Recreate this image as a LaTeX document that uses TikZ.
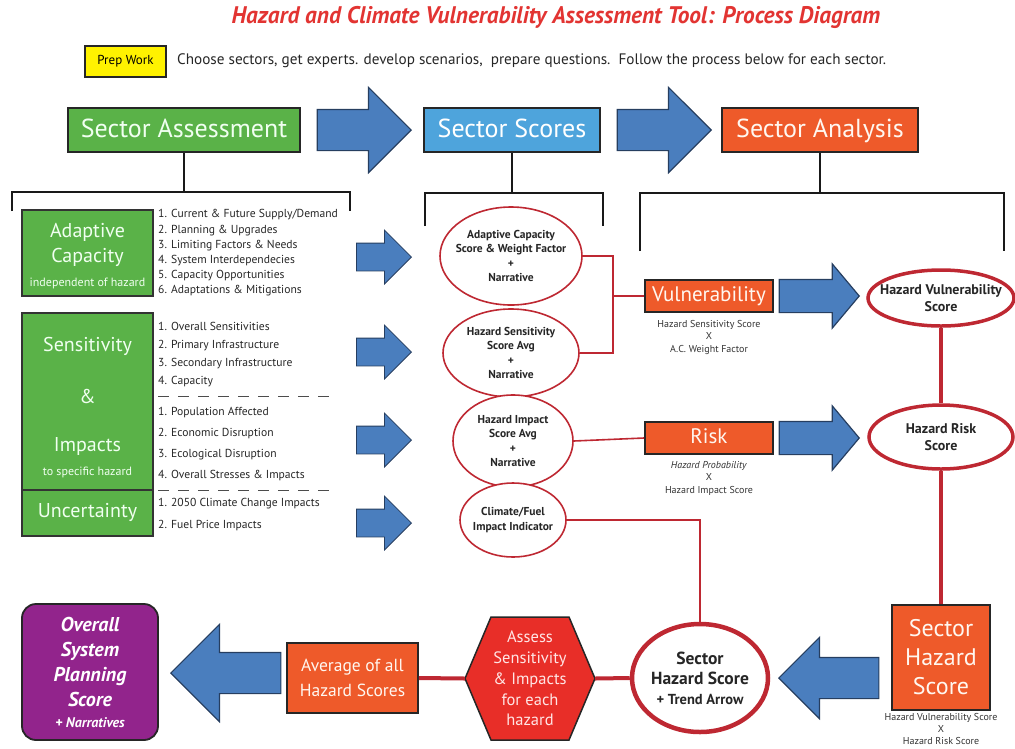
\documentclass[tikz,border=0pt]{standalone}
\usepackage{graphicx}
\usepackage{fontspec}
\setmainfont{PT Sans}
\usetikzlibrary{shapes.geometric,shapes.arrows,positioning,calc}

\definecolor{hdrgreen}{RGB}{90,178,72}
\definecolor{hdrblue}{RGB}{78,164,220}
\definecolor{boxorange}{RGB}{238,90,42}
\definecolor{arrowblue}{RGB}{74,126,190}
\definecolor{arrowline}{RGB}{38,62,96}
\definecolor{ellred}{RGB}{190,40,50}
\definecolor{hexred}{RGB}{232,46,40}
\definecolor{sysviolet}{RGB}{146,36,140}
\definecolor{prepyellow}{RGB}{255,242,0}
\definecolor{titlered}{RGB}{226,52,50}

\begin{document}
\begin{tikzpicture}[x=1pt, y=-1pt,
    hdr/.style={rectangle, draw=black!85, line width=2.5pt, inner sep=0,
        minimum height=44, text height=19, text depth=5, font=\fontsize{26}{30}\selectfont},
    sub/.style={rectangle, draw=black!80, line width=1.8pt, fill=hdrgreen,
        inner sep=0, minimum width=131},
    subtext/.style={inner sep=0, text=green!6!white, font=\fontsize{20}{24}\selectfont},
    list/.style={anchor=west, align=left, inner sep=0, text=black!85},
    bigarrow/.style={single arrow, draw=arrowline, line width=1.2pt, fill=arrowblue,
        inner xsep=0, inner ysep=20, single arrow head extend=22,
        minimum width=84, minimum height=94, anchor=tip},
    smallarrow/.style={bigarrow, inner ysep=13.5, single arrow head extend=13,
        minimum width=53, minimum height=55, line width=0.8pt},
    ell/.style={ellipse, draw=ellred, line width=1.6pt, fill=white, inner sep=0},
    elltext/.style={align=center, inner sep=0, text=black!85,
        font=\bfseries\fontsize{11.5}{14.5}\selectfont},
    opbox/.style={rectangle, draw=black!85, line width=1.8pt, fill=boxorange,
        inner sep=0, text=orange!6!white},
    note/.style={align=center, inner sep=0, text=black!80,
        font=\fontsize{10}{12.5}\selectfont},
    redline/.style={draw=ellred, line width=1.6pt},
    thickred/.style={draw=ellred, line width=4pt},
    bracket/.style={draw=black!90, line width=2pt},
]
\useasboundingbox (0,0) rectangle (1015,748);

% Title and prep work
\node[text=titlered, font=\bfseries\itshape\fontsize{24}{28}\selectfont] (title) at (556,17)
    {\scalebox{0.97}[1]{Hazard and Climate Vulnerability Assessment Tool: Process Diagram}};
\node[rectangle, draw=black!85, line width=1.5pt, fill=prepyellow, inner sep=0,
    minimum width=81, minimum height=31, font=\fontsize{13}{15}\selectfont] (prep) at (125.5,61.5) {Prep Work};
\node[anchor=west, inner sep=0, text=black!85, font=\fontsize{15.2}{18}\selectfont] (prep-text) at (177,61)
    {Choose sectors, get experts. develop scenarios,\ \ prepare questions.\ \ Follow the process below for each sector.};

% Headers
\node[hdr, fill=hdrgreen, minimum width=232, text=green!6!white] (assess) at (184,130) {Sector Assessment};
\node[hdr, fill=hdrblue, minimum width=176, text=white] (scores) at (512,130) {Sector Scores};
\node[hdr, fill=boxorange, minimum width=196, text=orange!6!white] (analysis) at (820,130) {Sector Analysis};
\node[bigarrow] (arr-1) at (412,130) {};
\node[bigarrow] (arr-2) at (712,130) {};

% Brackets
\draw[bracket] (assess.south) -- (184,192);
\draw[bracket] (12,211) -- (12,192) -- (350,192) -- (350,211);
\draw[bracket] (scores.south) -- (512,193);
\draw[bracket] (425,226) -- (425,193) -- (603,193) -- (603,226);
\draw[bracket] (analysis.south) -- (820,193);
\draw[bracket] (640,251) -- (640,193) -- (1004,193) -- (1004,251);

% Assessment boxes
\node[sub, minimum height=86] (adapt) at (87.5,253) {};
\node[subtext] (adapt-1) at (87.5,232) {Adaptive};
\node[subtext] (adapt-2) at (87.5,257) {Capacity};
\node[subtext, font=\fontsize{12}{14}\selectfont] (adapt-3) at (87.5,283) {independent of hazard};

\node[sub, minimum height=177] (sens) at (87.5,401.5) {};
\node[subtext] (sens-1) at (87.5,346) {Sensitivity};
\node[subtext] (sens-2) at (87.5,396) {\&};
\node[subtext] (sens-3) at (87.5,446) {Impacts};
\node[subtext, font=\fontsize{12}{14}\selectfont] (sens-4) at (87.5,472) {to specific hazard};

\node[sub, minimum height=46] (unc) at (87.5,513) {};
\node[subtext] (unc-1) at (87.5,512) {Uncertainty};

% Lists
\node[list, font=\fontsize{11.6}{15.2}\selectfont] (list-1) at (158,253)
    {1. Current \& Future Supply/Demand\\2. Planning \& Upgrades\\3. Limiting Factors \& Needs\\
     4. System Interdependecies\\5. Capacity Opportunities\\6. Adaptations \& Mitigations};
\node[list, font=\fontsize{11.6}{18}\selectfont] (list-2) at (158,355)
    {1. Overall Sensitivities\\2. Primary Infrastructure\\3. Secondary Infrastructure\\4. Capacity};
\draw[black!70, line width=0.9pt, dash pattern=on 11pt off 9pt] (158,396) -- (332,396);
\node[list, font=\fontsize{11.6}{20.8}\selectfont] (list-3) at (158,444)
    {1. Population Affected\\2. Economic Disruption\\3. Ecological Disruption\\4. Overall Stresses \& Impacts};
\draw[black!70, line width=0.9pt, dash pattern=on 11pt off 9pt] (158,490) -- (332,490);
\node[list, font=\fontsize{11.6}{22}\selectfont] (list-4) at (158,515)
    {1. 2050 Climate Change Impacts\\2. Fuel Price Impacts};

\node[smallarrow] (arr-a) at (412,257) {};
\node[smallarrow] (arr-b) at (412,352) {};
\node[smallarrow] (arr-c) at (412,440) {};
\node[smallarrow] (arr-d) at (412,523) {};

% Score ellipses
\node[ell, minimum width=142, minimum height=98] (adapt-score) at (511,256) {};
\node[elltext] at (adapt-score) {Adaptive Capacity\\Score \& Weight Factor\\+\\Narrative};
\node[ell, minimum width=136, minimum height=88] (sens-score) at (511,353) {};
\node[elltext] at (sens-score) {Hazard Sensitivity\\Score Avg\\+\\Narrative};
\node[ell, minimum width=120, minimum height=92] (impact-score) at (513,441) {};
\node[elltext] at (impact-score) {Hazard Impact\\Score Avg\\+\\Narrative};
\node[ell, minimum width=106, minimum height=74] (fuel-score) at (513,520) {};
\node[elltext] at (fuel-score) {Climate/Fuel\\Impact Indicator};

% Analysis
\node[opbox, minimum width=128, minimum height=32, text height=15, text depth=4,
    font=\fontsize{21}{24}\selectfont] (vuln) at (709,296) {Vulnerability};
\node[note] (vuln-note) at (709,337) {Hazard Sensitivity Score\\X\\A.C. Weight Factor};
\node[opbox, minimum width=128, minimum height=32, text height=15, text depth=4,
    font=\fontsize{21}{24}\selectfont] (risk) at (709,438) {Risk};
\node[note] (risk-note) at (709,478) {\textit{Hazard Probability}\\X\\Hazard Impact Score};

\draw[redline] (adapt-score.east) -- (613,256) coordinate (join) |- (sens-score.east);
\draw[redline] (join |- vuln.west) -- (vuln.west);
\draw[redline] (impact-score.east) -- (risk.west);

\node[bigarrow, inner ysep=16, single arrow head extend=15.5, minimum width=63, minimum height=80,
    single arrow tip angle=100] (arr-v) at (860,296) {};
\node[bigarrow, inner ysep=16, single arrow head extend=15.5, minimum width=63, minimum height=80,
    single arrow tip angle=100] (arr-r) at (860,438) {};

\node[ell, line width=3.5pt, minimum width=146, minimum height=56] (hvs) at (941,298) {};
\node[elltext, font=\bfseries\fontsize{14}{17}\selectfont] at (hvs) {Hazard Vulnerability\\Score};
\node[ell, line width=3.5pt, minimum width=144, minimum height=64] (hrs) at (941,437) {};
\node[elltext, font=\bfseries\fontsize{14}{17}\selectfont] at (hrs) {Hazard Risk\\Score};

\node[opbox, minimum width=98, minimum height=105, align=center, font=\fontsize{24}{29}\selectfont] (shs) at (941,657.5)
    {Sector\\Hazard\\Score};
\node[note, font=\fontsize{10}{12}\selectfont] (shs-note) at (941,729) {Hazard Vulnerability Score\\X\\Hazard Risk Score};

\draw[thickred] (hvs.south) -- (hrs.north);
\draw[thickred] (hrs.south) -- (shs.north);

% Bottom row
\node[bigarrow, shape border rotate=180, single arrow head extend=20, minimum width=80,
    minimum height=100] (arr-s) at (778,678) {};
\node[ell, line width=4.5pt, minimum width=136, minimum height=108] (sector) at (700,678) {};
\node[elltext, font=\bfseries\fontsize{17.5}{20}\selectfont] at (sector)
    {Sector\\Hazard Score\\{\fontsize{14.5}{16}\selectfont + Trend Arrow}};
\draw[redline] (fuel-score.east) -| (sector.north);

\draw[draw=black!85, line width=1.5pt, fill=hexred]
    (465,678.5) -- (491,617) -- (569,617) -- (595,678.5) -- (569,740) -- (491,740) -- cycle;
\node[inner sep=0, minimum width=130, minimum height=123, align=center, text=red!10!white,
    font=\fontsize{16.5}{20.8}\selectfont] (hex) at (530,678.5)
    {Assess\\Sensitivity\\\& Impacts\\for each\\hazard};
\draw[thickred] (hex.east) -- (sector.west);

\node[opbox, minimum width=131, minimum height=70, align=center, font=\fontsize{17.5}{25}\selectfont] (avg) at (352.5,678)
    {Average of all\\Hazard Scores};
\draw[thickred] (hex.west) -- (avg.east);

\node[bigarrow, shape border rotate=180, single arrow head extend=28, minimum width=96,
    minimum height=110] (arr-o) at (170,673) {};
\node[rectangle, rounded corners=14pt, draw=black!85, line width=1.8pt, fill=sysviolet, inner sep=0,
    minimum width=136, minimum height=136, align=center, text=white,
    font=\bfseries\itshape\fontsize{20}{25}\selectfont] (overall) at (90,672)
    {Overall\\System\\Planning\\Score\\[-4pt]{\fontsize{14}{16}\selectfont + Narratives}};
\end{tikzpicture}
\end{document}
